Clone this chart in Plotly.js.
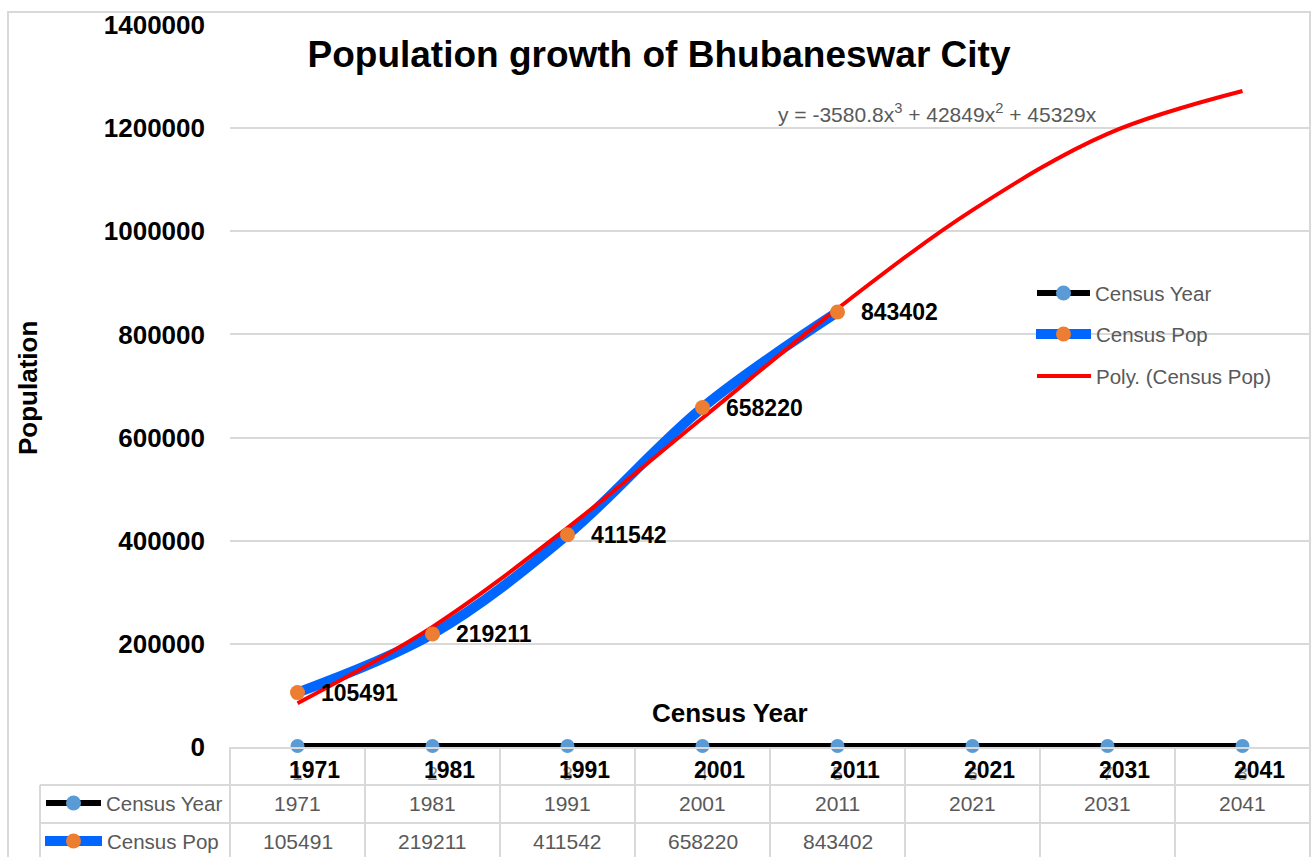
<!DOCTYPE html>
<html>
<head>
<meta charset="utf-8">
<script src="https://cdn.plot.ly/plotly-3.0.1.min.js"></script>
<style>
  body { margin: 0; background: #fff; }
  #chart { width: 1314px; height: 857px; }
</style>
</head>
<body>
<div id="chart"></div>
<script>
// data
const tickLabels = ['1', '2', '3', '4', '5', '6', '7', '8'];
const censusYears = [1971, 1981, 1991, 2001, 2011, 2021, 2031, 2041];
const censusPop = [105491, 219211, 411542, 658220, 843402];
// polynomial trend line, read at each category
const trendPop = [85000, 233000, 425000, 638000, 850000, 1041000, 1189000, 1272000];

const FONT = 'Liberation Sans, Arial, sans-serif';
const GRAY_TEXT = '#595959';
const GRID = '#D9D9D9';
const YEAR_LINE = '#000000';
const YEAR_MARK = '#5B9BD5';
const POP_LINE = '#0066FF';
const POP_MARK = '#ED7D31';
const TREND = '#FF0000';

// page pixel -> paper coords (plot area is 230..1310 x 25..747)
const L = 230, R = 1310, T = 25, B = 747;
const px = p => (p - L) / (R - L);
const py = p => (B - p) / (B - T);

const idx = censusYears.map((_, i) => i);

const traces = [
    {
        x: idx, y: censusYears,
        type: 'scatter', mode: 'lines+markers',
        name: 'Census Year',
        line: { color: YEAR_LINE, width: 6 },
        marker: { color: YEAR_MARK, size: 14 },
        cliponaxis: false,
        showlegend: false
    },
    {
        x: idx.slice(0, censusPop.length), y: censusPop,
        type: 'scatter', mode: 'lines',
        name: 'Census Pop',
        line: { color: POP_LINE, width: 10, shape: 'spline', smoothing: 1 },
        showlegend: false
    },
    {
        x: idx, y: trendPop,
        type: 'scatter', mode: 'lines',
        name: 'Poly. (Census Pop)',
        line: { color: TREND, width: 4, shape: 'spline', smoothing: 1 },
        showlegend: false
    },
    {
        x: idx.slice(0, censusPop.length), y: censusPop,
        type: 'scatter', mode: 'markers',
        name: 'Census Pop',
        marker: { color: POP_MARK, size: 15 },
        showlegend: false
    }
];

const annotations = [];

// data labels
censusPop.forEach((v, i) => annotations.push({
    x: i, y: v, xref: 'x', yref: 'y', text: String(v),
    xanchor: 'left', yanchor: 'middle', xshift: 21, showarrow: false,
    font: { family: FONT, size: 23, color: '#000', weight: 'bold' }
}));
censusYears.forEach((v, i) => annotations.push({
    x: i, y: v, xref: 'x', yref: 'y', text: String(v),
    xanchor: 'center', yanchor: 'middle', xshift: 17, yshift: -24, showarrow: false,
    font: { family: FONT, size: 23, color: '#000', weight: 'bold' }
}));

// data table cells
censusYears.forEach((v, i) => annotations.push({
    x: i, y: py(803), xref: 'x', yref: 'paper', text: String(v),
    xanchor: 'center', yanchor: 'middle', showarrow: false,
    font: { family: FONT, size: 21, color: GRAY_TEXT }
}));
censusPop.forEach((v, i) => annotations.push({
    x: i, y: py(841), xref: 'x', yref: 'paper', text: String(v),
    xanchor: 'center', yanchor: 'middle', showarrow: false,
    font: { family: FONT, size: 21, color: GRAY_TEXT }
}));

// titles and equation
annotations.push(
    {
        x: px(730), y: py(713), xref: 'paper', yref: 'paper', text: 'Census Year',
        showarrow: false, xanchor: 'center', yanchor: 'middle',
        font: { family: FONT, size: 26, color: '#000', weight: 'bold' }
    },
    {
        x: px(28), y: py(388), xref: 'paper', yref: 'paper', text: 'Population',
        showarrow: false, textangle: -90, xanchor: 'center', yanchor: 'middle',
        font: { family: FONT, size: 26, color: '#000', weight: 'bold' }
    },
    {
        x: px(937), y: py(113), xref: 'paper', yref: 'paper',
        text: 'y = -3580.8x<sup>3</sup> + 42849x<sup>2</sup> + 45329x',
        showarrow: false, xanchor: 'center', yanchor: 'middle',
        font: { family: FONT, size: 21, color: GRAY_TEXT }
    }
);

// legend (drawn by hand) and table keys
const legendRows = [
    { y: 293, x0: 1037, x1: 1090, text: 'Census Year', line: YEAR_LINE, w: 6, mark: YEAR_MARK },
    { y: 334, x0: 1036, x1: 1091, text: 'Census Pop', line: POP_LINE, w: 10, mark: POP_MARK },
    { y: 376, x0: 1037, x1: 1091, text: 'Poly. (Census Pop)', line: TREND, w: 4, mark: null },
    { y: 803, x0: 46, x1: 101, text: 'Census Year', line: YEAR_LINE, w: 6, mark: YEAR_MARK },
    { y: 841, x0: 45, x1: 102, text: 'Census Pop', line: POP_LINE, w: 10, mark: POP_MARK }
];

const shapes = [];
legendRows.forEach(r => {
    shapes.push({
        type: 'line', xref: 'paper', yref: 'paper',
        x0: px(r.x0), x1: px(r.x1), y0: py(r.y), y1: py(r.y),
        line: { color: r.line, width: r.w }
    });
    if (r.mark) {
        shapes.push({
            type: 'circle', xref: 'paper', yref: 'paper',
            xsizemode: 'pixel', ysizemode: 'pixel',
            xanchor: px((r.x0 + r.x1) / 2), yanchor: py(r.y),
            x0: -7.5, x1: 7.5, y0: -7.5, y1: 7.5,
            fillcolor: r.mark, line: { width: 0 }
        });
    }
    annotations.push({
        x: px(r.x1 + 3), y: py(r.y), xref: 'paper', yref: 'paper', text: r.text,
        showarrow: false, xanchor: 'left', yanchor: 'middle',
        font: { family: FONT, size: 20.5, color: GRAY_TEXT }
    });
});

// table grid
const gridLine = (x0, y0, x1, y1) => shapes.push({
    type: 'line', xref: 'paper', yref: 'paper',
    x0: px(x0), y0: py(y0), x1: px(x1), y1: py(y1),
    line: { color: GRID, width: 2 }
});
for (let k = 0; k <= tickLabels.length; k++) {
    const xk = L + k * (R - L) / tickLabels.length;
    gridLine(xk, B, xk, 860);
}
gridLine(40, 785, R, 785);
gridLine(40, 823, R, 823);
gridLine(40, 785, 40, 860);

// chart border
shapes.push({
    type: 'rect', xref: 'paper', yref: 'paper',
    x0: px(8), x1: px(1310), y0: py(870), y1: py(12),
    line: { color: GRID, width: 2 }, layer: 'below'
});

const layout = {
    width: 1314,
    height: 857,
    paper_bgcolor: '#fff',
    plot_bgcolor: '#fff',
    margin: { l: L, r: 1314 - R, t: T, b: 857 - B },
    showlegend: false,
    title: {
        text: 'Population growth of Bhubaneswar City',
        x: px(659), xref: 'paper', xanchor: 'center',
        y: 1 - 54 / 857, yref: 'container', yanchor: 'middle',
        font: { family: FONT, size: 37, color: '#000', weight: 'bold' }
    },
    xaxis: {
        range: [-0.5, tickLabels.length - 0.5],
        tickvals: idx,
        ticktext: tickLabels,
        tickfont: { family: FONT, size: 19, color: '#8C8C8C' },
        ticks: '',
        ticklabelstandoff: 8,
        showgrid: false,
        zeroline: false,
        showline: true,
        linecolor: GRID,
        linewidth: 2,
        fixedrange: true
    },
    yaxis: {
        range: [0, 1400000],
        dtick: 200000,
        tickformat: 'd',
        tickfont: { family: FONT, size: 26, color: '#000', weight: 'bold' },
        ticks: '',
        ticklabelstandoff: 24,
        gridcolor: GRID,
        gridwidth: 2,
        zeroline: false,
        showline: false,
        fixedrange: true
    },
    annotations: annotations,
    shapes: shapes
};

Plotly.newPlot('chart', traces, layout, { displayModeBar: false, responsive: false });
</script>
</body>
</html>
